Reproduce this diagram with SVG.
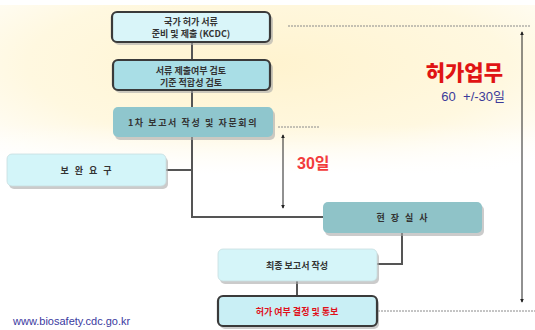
<svg xmlns="http://www.w3.org/2000/svg" width="535" height="330" viewBox="0 0 535 330">
<defs>
<radialGradient id="bg" cx="0.5" cy="0.35" r="0.75">
<stop offset="0" stop-color="#fff3cf"/>
<stop offset="0.6" stop-color="#fff8e0"/>
<stop offset="1" stop-color="#ffffff"/>
</radialGradient>
<linearGradient id="fade" x1="0" y1="0" x2="0" y2="1">
<stop offset="0" stop-color="#fff" stop-opacity="0"/>
<stop offset="0.7" stop-color="#fff" stop-opacity="0"/>
<stop offset="1" stop-color="#fff" stop-opacity="1"/>
</linearGradient>
<marker id="arr" viewBox="0 0 6 6" refX="5" refY="3" markerWidth="4" markerHeight="4" orient="auto-start-reverse">
<path d="M0,0 L6,3 L0,6 z" fill="#222"/>
</marker>
<style>
.sh{fill:#a8a8a8;opacity:0.6}
.t{font-family:"Noto Sans CJK KR","Noto Sans",sans-serif;font-size:9px;font-weight:bold;fill:#333;text-anchor:middle;dominant-baseline:central}
.bold{stroke:#3a3a3a;stroke-width:2.2}
.thin{stroke:#c8dde0;stroke-width:0.8}
.c{fill:none;stroke:#555;stroke-width:2}
.dot{fill:none;stroke:#8a8a8a;stroke-width:1;stroke-dasharray:2 1}
.ar{fill:none;stroke:#222;stroke-width:1}
</style>
</defs>
<rect x="0" y="0" width="535" height="330" fill="#fff"/>
<rect x="0" y="5" width="535" height="170" fill="url(#bg)"/>
<rect x="0" y="5" width="535" height="170" fill="url(#fade)"/>

<g id="connectors">
<line class="c" x1="192" y1="42" x2="192" y2="60"/>
<line class="c" x1="192" y1="90" x2="192" y2="107"/>
<polyline class="c" points="192,137 192,217 323,217"/>
<line class="c" x1="166" y1="170" x2="192" y2="170"/>
<polyline class="c" points="402,233 402,264 377,264"/>
<line class="c" x1="297" y1="281" x2="297" y2="296"/>
<line class="dot" x1="288" y1="26" x2="530" y2="26"/>
<line class="dot" x1="278" y1="127" x2="320" y2="127"/>
<line class="dot" x1="378" y1="311" x2="535" y2="311"/>
<line class="ar" x1="522" y1="32" x2="522" y2="302" marker-start="url(#arr)" marker-end="url(#arr)"/>
<line class="ar" x1="283" y1="135" x2="283" y2="208" marker-start="url(#arr)" marker-end="url(#arr)"/>
</g>

<g id="n1">
<rect class="sh" x="114" y="15" width="159" height="30" rx="5"/>
<rect class="bold" x="112" y="12" width="158" height="30" rx="5" fill="#d9f5f9"/>
<text class="t" x="191" y="21">국가 허가 서류</text>
<text class="t" x="191" y="33">준비 및 제출 (KCDC)</text>
</g>

<g id="n2">
<rect class="sh" x="115" y="63" width="158" height="30" rx="5"/>
<rect class="bold" x="113" y="60" width="157" height="30" rx="5" fill="#a9dee6"/>
<text class="t" x="191" y="70">서류 제출여부 검토</text>
<text class="t" x="191" y="82">기준 적합성 검토</text>
</g>

<g id="n3">
<rect class="sh" x="115" y="110" width="160" height="30" rx="5"/>
<rect x="113" y="107" width="160" height="30" rx="5" fill="#8fc6cd"/>
<text class="t" x="193" y="122" style="letter-spacing:1.6px">1차 보고서 작성 및 자문회의</text>
</g>

<g id="n4">
<rect class="sh" x="9" y="157" width="159" height="32" rx="5"/>
<rect class="thin" x="7" y="154" width="159" height="32" rx="5" fill="#d3f5f9"/>
<text class="t" x="87" y="170" style="letter-spacing:2px">보 완 요 구</text>
</g>

<g id="n5">
<rect class="sh" x="325" y="205" width="159" height="31" rx="5"/>
<rect x="323" y="202" width="159" height="31" rx="5" fill="#8fc3c8"/>
<text class="t" x="403" y="217" style="letter-spacing:2px">현 장 실 사</text>
</g>

<g id="n6">
<rect class="sh" x="220" y="252" width="159" height="32" rx="5"/>
<rect class="thin" x="218" y="249" width="159" height="32" rx="5" fill="#d5f5f9"/>
<text class="t" x="297" y="265">최종 보고서 작성</text>
</g>

<g id="n7">
<rect class="sh" x="220" y="299" width="159" height="30" rx="5"/>
<rect class="bold" x="218" y="296" width="159" height="30" rx="5" fill="#c9eff5"/>
<text class="t" x="297" y="311" style="fill:#e0101a">허가 여부 결정 및 통보</text>
</g>

<text x="503" y="80" text-anchor="end" font-family="Noto Sans CJK KR, Noto Sans, sans-serif" font-size="21" font-weight="900" fill="#e01414">허가업무</text>
<text x="505" y="101" text-anchor="end" font-family="Liberation Sans, Noto Sans CJK KR, sans-serif" font-size="13" fill="#3b3b9a">60&#160;&#160;+/-30일</text>
<text x="297" y="169" font-family="Liberation Sans, Noto Sans CJK KR, sans-serif" font-size="16" font-weight="bold" fill="#f23c3c">30일</text>
<text x="13" y="325" font-family="Liberation Sans, sans-serif" font-size="11" fill="#3a3aa0">www.biosafety.cdc.go.kr</text>
</svg>
